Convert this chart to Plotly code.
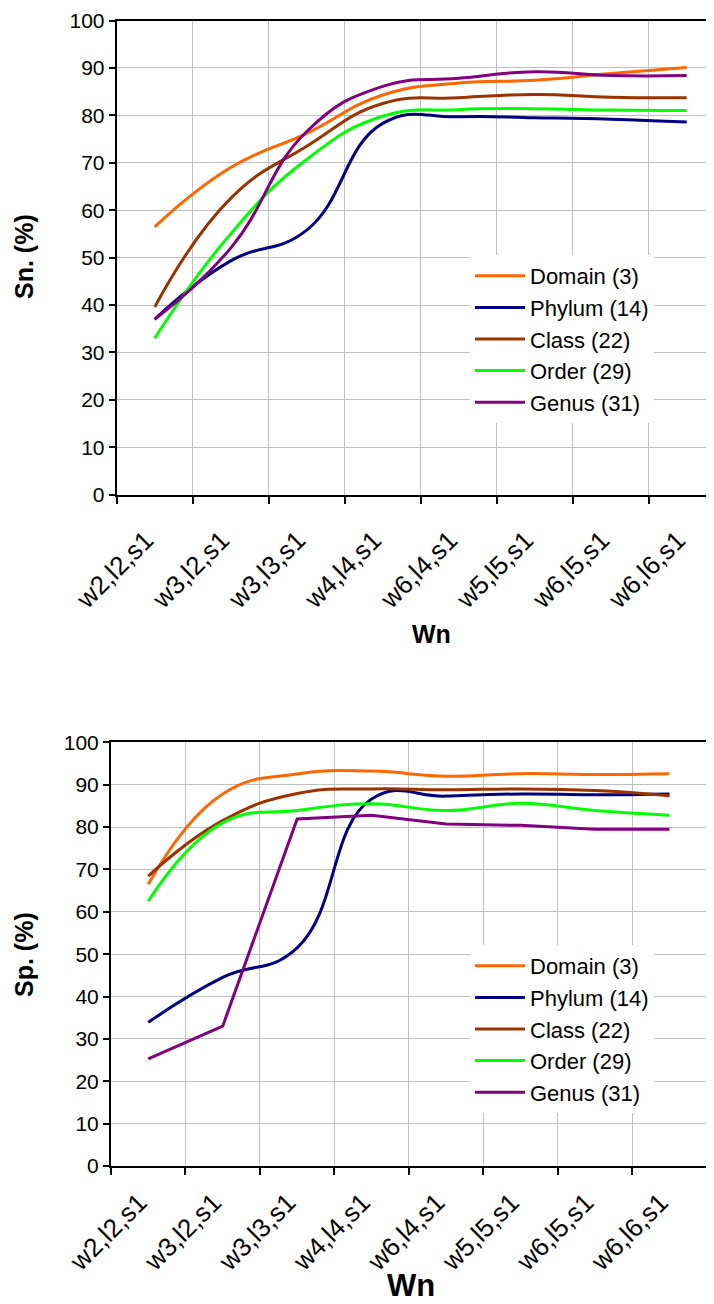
import plotly.graph_objects as go

categories = ["w2,l2,s1", "w3,l2,s1", "w3,l3,s1", "w4,l4,s1",
              "w6,l4,s1", "w5,l5,s1", "w6,l5,s1", "w6,l6,s1"]
series_names = ["Domain (3)", "Phylum (14)", "Class (22)", "Order (29)", "Genus (31)"]
colors = ["#FF6600", "#000080", "#993300", "#00FF00", "#800080"]

# Sensitivity (top chart)
sn_domain = [56.5, 69.0, 76.2, 84.3, 86.8, 87.4, 88.8, 90.1]
sn_phylum = [37.0, 49.3, 55.8, 78.3, 79.7, 79.5, 79.2, 78.6]
sn_class = [39.6, 62.5, 73.5, 82.5, 83.7, 84.4, 83.8, 83.7]
sn_order = [33.0, 55.0, 70.7, 79.8, 81.2, 81.4, 81.1, 81.0]
sn_genus = [37.0, 52.0, 76.6, 86.1, 87.8, 89.2, 88.4, 88.4]

# Specificity (bottom chart)
sp_domain = [66.5, 87.8, 92.5, 93.2, 92.0, 92.6, 92.4, 92.6]
sp_phylum = [33.9, 44.5, 51.5, 86.6, 87.3, 87.8, 87.6, 87.8]
sp_class = [68.4, 81.5, 87.9, 89.0, 88.8, 89.0, 88.6, 87.4]
sp_order = [62.5, 81.0, 83.9, 85.5, 83.9, 85.6, 83.9, 82.8]
sp_genus = [25.3, 33.0, 81.9, 82.8, 80.7, 80.4, 79.5, 79.5]

sn_all = [sn_domain, sn_phylum, sn_class, sn_order, sn_genus]
sp_all = [sp_domain, sp_phylum, sp_class, sp_order, sp_genus]
sp_shapes = ["spline", "spline", "spline", "spline", "linear"]

# page has an 8px body margin: figure sized to fit the window inside it
OFF = 8
W, H = 714 - OFF, 1304 - OFF
def px(x):
    return (x - OFF) / W
def py(y):
    return 1 - (y - OFF) / H

FONT = "Liberation Sans, Arial, sans-serif"
xpos = list(range(len(categories)))
SMOOTH = 1.3

fig = go.Figure()
for name, col, vals in zip(series_names, colors, sn_all):
    fig.add_trace(go.Scatter(x=xpos, y=vals, mode="lines", name=name,
                             line=dict(color=col, width=3, shape="spline", smoothing=SMOOTH),
                             xaxis="x", yaxis="y", legend="legend"))
for name, col, vals, shp in zip(series_names, colors, sp_all, sp_shapes):
    fig.add_trace(go.Scatter(x=xpos, y=vals, mode="lines", name=name,
                             line=dict(color=col, width=3, shape=shp, smoothing=SMOOTH),
                             xaxis="x2", yaxis="y2", legend="legend2"))

grid = "#C0C0C0"
bounds = [i - 0.5 for i in range(len(categories) + 1)]

def xax(domain, rng, anchor, standoff):
    return dict(domain=domain, range=rng, anchor=anchor, automargin=False,
                tickmode="array", tickvals=xpos, ticktext=categories,
                tickangle=-45, ticks="", showgrid=False, zeroline=False,
                showline=True, linecolor="black", linewidth=2, mirror=True,
                ticklabelstandoff=standoff, ticklabelshift=-9,
                ticklabeloverflow="allow",
                tickfont=dict(family=FONT, size=26, color="black"),
                minor=dict(tickmode="array", tickvals=bounds, showgrid=True,
                           gridcolor=grid, gridwidth=1, ticks="outside",
                           ticklen=7, tickcolor="black", tickwidth=1.5))

def yax(domain, anchor, mirror):
    return dict(domain=domain, range=[0, 100], anchor=anchor, automargin=False,
                tickmode="linear", tick0=0, dtick=10, ticks="outside",
                ticklen=6, tickcolor="black", tickwidth=1.5,
                showgrid=True, gridcolor=grid, gridwidth=1, zeroline=False,
                showline=True, linecolor="black", linewidth=2, mirror=mirror,
                ticklabeloverflow="allow",
                tickfont=dict(family=FONT, size=21, color="black"))

top_l, top_t, top_b = 116.7, 20.5, 494.7
bot_l, bot_r, bot_t, bot_b = 111.0, 706.7, 742.3, 1166.0
top_right_val = -0.5 + (714 - top_l) / 76.0

legend_style = dict(xanchor="left", yanchor="top", bgcolor="white", borderwidth=0,
                    itemwidth=50, font=dict(family=FONT, size=22, color="black"))

fig.update_layout(
    width=W, height=H, paper_bgcolor="white", plot_bgcolor="white",
    margin=dict(l=0, r=0, t=0, b=0),
    xaxis=xax([px(top_l), 1.0], [-0.5, top_right_val], "y", 18),
    yaxis=yax([py(top_b), py(top_t)], "x", False),
    xaxis2=xax([px(bot_l), px(bot_r)], [-0.5, 7.5], "y2", 9),
    yaxis2=yax([py(bot_b), py(bot_t)], "x2", True),
    legend=dict(x=px(470), y=py(255), **legend_style),
    legend2=dict(x=px(470), y=py(945), **legend_style),
    showlegend=True,
)

annots = [
    dict(text="<b>Sn. (%)</b>", x=24, y=257, textangle=-90, size=25),
    dict(text="<b>Sp. (%)</b>", x=24, y=955, textangle=-90, size=25),
    dict(text="<b>Wn</b>", x=431, y=634, textangle=0, size=25),
    dict(text="<b>Wn</b>", x=411, y=1285, textangle=0, size=31),
]
for a in annots:
    fig.add_annotation(text=a["text"], x=px(a["x"]), y=py(a["y"]), xref="paper", yref="paper",
                       xanchor="center", yanchor="middle", showarrow=False,
                       textangle=a["textangle"],
                       font=dict(family=FONT, size=a["size"], color="black"))

fig.write_html("out.html")
